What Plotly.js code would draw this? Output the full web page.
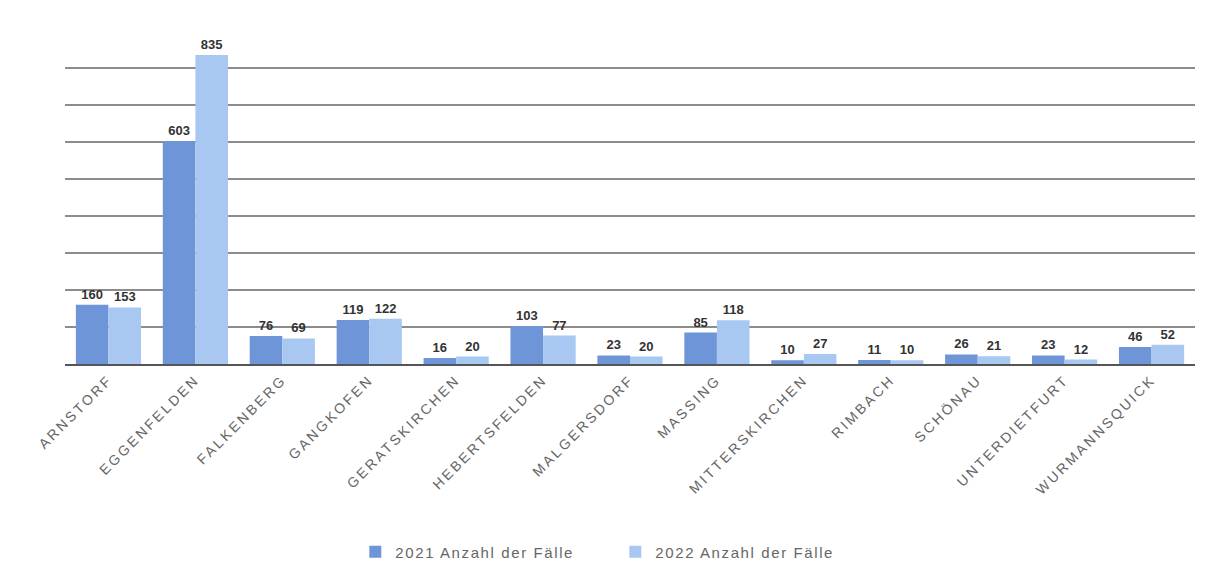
<!DOCTYPE html>
<html>
<head>
<meta charset="utf-8">
<script src="https://cdn.plot.ly/plotly-3.0.1.min.js"></script>
<style>
html,body{margin:0;padding:0;background:#fff;}
#chart{width:1210px;height:579px;}
#chart .xtick text{letter-spacing:2.6px;}
#chart .legendtext{letter-spacing:1.6px;}
</style>
</head>
<body>
<div id="chart"></div>
<script>
const categories = ["ARNSTORF","EGGENFELDEN","FALKENBERG","GANGKOFEN","GERATSKIRCHEN","HEBERTSFELDEN","MALGERSDORF","MASSING","MITTERSKIRCHEN","RIMBACH","SCHÖNAU","UNTERDIETFURT","WURMANNSQUICK"];
const values2021 = [160,603,76,119,16,103,23,85,10,11,26,23,46];
const values2022 = [153,835,69,122,20,77,20,118,27,10,21,12,52];
const seriesNames = ["2021 Anzahl der Fälle","2022 Anzahl der Fälle"];

const common = {
  type: "bar",
  x: categories,
  textposition: "outside",
  cliponaxis: false,
  textfont: {family: "Liberation Sans, Arial, sans-serif", size: 13, color: "#333", weight: "bold"}
};
const data = [
  Object.assign({}, common, {name: seriesNames[0], y: values2021, text: values2021.map(String), marker: {color: "#6f95d9"}}),
  Object.assign({}, common, {name: seriesNames[1], y: values2022, text: values2022.map(String), marker: {color: "#a8c8f2"}})
];
const layout = {
  width: 1210, height: 579,
  margin: {l: 65, r: 15, t: 31, b: 214},
  paper_bgcolor: "#ffffff",
  plot_bgcolor: "#ffffff",
  barmode: "group",
  bargap: 0.25,
  bargroupgap: 0,
  font: {family: "Liberation Sans, Arial, sans-serif", color: "#555"},
  xaxis: {
    tickangle: -45,
    tickfont: {size: 14, color: "#666"},
    showline: true, linecolor: "#555", linewidth: 2,
    ticks: ""
  },
  yaxis: {
    range: [0, 900],
    dtick: 100,
    showticklabels: false,
    gridcolor: "#8c8c8c",
    gridwidth: 2,
    zeroline: false
  },
  legend: {
    orientation: "h",
    x: 0.487, xanchor: "center",
    y: -0.56, yanchor: "middle",
    entrywidth: 215,
    entrywidthmode: "pixels",
    font: {size: 15, color: "#666"}
  },
  showlegend: true
};
Plotly.newPlot("chart", data, layout, {displayModeBar: false, staticPlot: true});
</script>
</body>
</html>
